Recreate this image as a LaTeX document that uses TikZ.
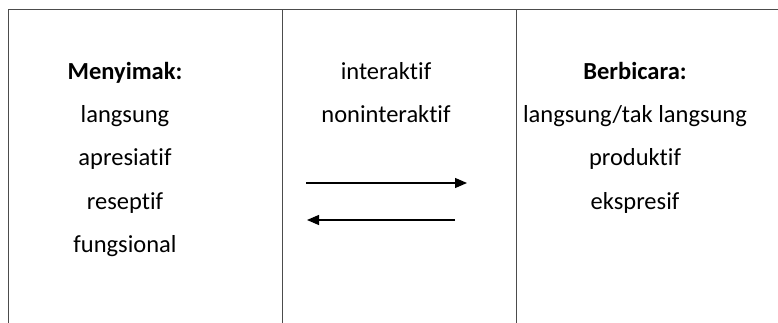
\documentclass[tikz,border=0pt]{standalone}
\usepackage{fontspec}
\setmainfont{Carlito}[Ligatures={NoCommon}]
\usetikzlibrary{arrows.meta}
\begin{document}
\begin{tikzpicture}[x=1pt,y=-1pt,
  txt/.style={anchor=base,inner sep=0pt,font=\fontsize{24.5}{28}\selectfont,text=black},
  hd/.style={txt,font=\fontsize{24.5}{28}\selectfont\bfseries},
  rule/.style={line width=1pt,draw=black!70},
  arr/.style={line width=1.2pt,-{Triangle[length=12pt,width=10pt]}}]
\useasboundingbox (0,0) rectangle (778,323);
% table lines
\draw[rule] (8,10) -- (778,10);
\draw[rule] (8,10) -- (8,323);
\draw[rule] (282,10) -- (282,323);
\draw[rule] (516,10) -- (516,323);
% left column
\node[hd]  (m0) at (125,80)  {Menyimak:};
\node[txt] (m1) at (125,123) {langsung};
\node[txt] (m2) at (125,166) {apresiatif};
\node[txt] (m3) at (125,209) {reseptif};
\node[txt] (m4) at (125,252) {fungsional};
% middle column
\node[txt] (i1) at (386,80)  {interaktif};
\node[txt] (i2) at (386,123) {noninteraktif};
% right column
\node[hd]  (b0) at (635,80)  {Berbicara:};
\node[txt] (b1) at (635,123) {langsung/tak langsung};
\node[txt] (b2) at (635,166) {produktif};
\node[txt] (b3) at (635,209) {ekspresif};
% arrows
\coordinate (a1s) at (306,183);
\coordinate (a1e) at (467,183);
\coordinate (a2s) at (455,220);
\coordinate (a2e) at (307,220);
\draw[arr] (a1s) -- (a1e);
\draw[arr] (a2s) -- (a2e);
\end{tikzpicture}
\end{document}
